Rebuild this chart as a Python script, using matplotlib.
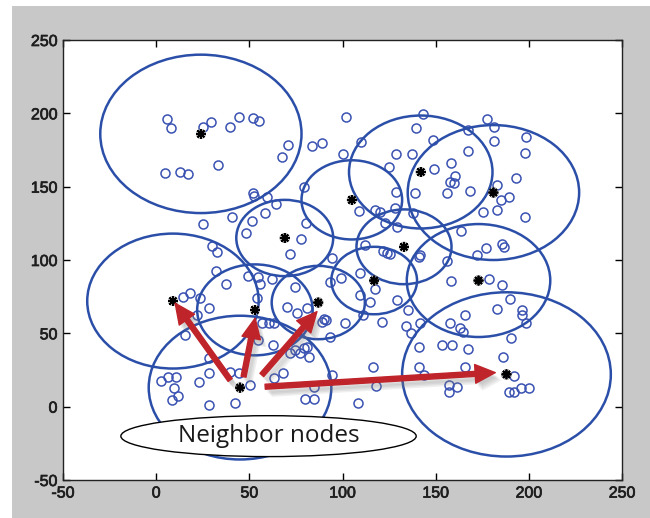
import matplotlib
matplotlib.use("Agg")
import matplotlib.pyplot as plt
from matplotlib.patches import Ellipse, Rectangle
import matplotlib.patheffects as pe

# ---- data ----
node_x = [5.7, 7.9, 25.4, 29.5, 39.7, 44.7, 52.2, 55.4,
          4.8, 12.9, 17.3, 33.1,
          67.5, 70.5, 83.6, 89.0, 79.1,
          52.2, 52.6, 59.4, 64.4, 58.5, 40.9, 24.9, 51.4, 48.3,
          77.8, 80.5, 71.6, 29.9, 32.6,
          102.0, 109.9, 100.2, 143.0, 139.6, 148.5, 128.7, 137.4, 124.7, 149.2, 158.2, 167.6, 167.6,
          177.8, 181.4, 181.4, 198.6, 198.1, 160.5, 157.8, 160.1, 156.0, 168.5, 193.2, 182.9, 185.2,
          189.3, 182.9, 175.4, 198.1, 138.7, 128.7, 108.6, 117.6, 120.0, 128.3, 122.9, 129.2, 138.1,
          163.6, 177.1, 185.6, 186.5, 112.2, 122.0, 123.8, 125.6,
          32.2, 49.5, 54.9, 55.8, 62.1, 37.6, 18.3, 14.3, 23.6, 28.1, 21.8, 54.0, 74.6, 70.1, 75.5,
          80.9, 90.2, 88.9, 56.7, 60.3, 63.0, 54.9, 62.6, 15.6, 28.1, 39.7, 44.2, 50.5, 42.4, 28.6,
          23.2, 28.6, 2.5, 6.6, 10.7, 9.7, 11.6, 8.7, 63.0, 68.3, 71.9, 80.9, 74.6, 79.1, 81.8, 77.3,
          84.5, 80.0, 84.5,
          140.8, 141.7, 156.0, 172.1, 94.3, 99.1, 93.4, 109.5, 117.6, 109.5, 114.9, 129.2, 135.4,
          158.2, 165.9, 157.8, 163.2, 164.6, 91.3, 101.4, 93.4, 111.0, 121.0, 134.2, 136.9, 141.7,
          141.3, 153.4, 158.8, 167.6, 116.3, 141.3, 143.9, 165.9, 118.1, 157.0, 161.4, 157.0, 94.3,
          178.4, 185.6, 190.0, 182.9, 196.3, 196.3, 198.6, 190.4, 186.0, 191.9, 189.1, 191.9, 196.0,
          199.9, 108.1]
node_y = [196.1, 189.8, 190.9, 194.3, 190.9, 197.3, 197.0, 195.0,
          159.5, 160.2, 158.6, 164.8,
          170.4, 178.6, 177.7, 179.5, 149.6,
          145.9, 143.6, 143.2, 138.2, 131.8, 129.5, 124.3, 126.6, 118.2,
          114.1, 125.0, 104.1, 109.5, 105.7,
          197.3, 180.4, 172.0, 199.3, 190.2, 181.8, 172.0, 172.0, 163.6, 161.8, 166.3, 174.3, 188.6,
          196.1, 190.9, 181.3, 184.0, 173.1, 157.3, 153.4, 152.7, 145.9, 147.2, 155.7, 151.1, 140.9,
          142.7, 134.1, 132.5, 129.5, 145.9, 146.6, 133.6, 134.1, 132.9, 135.2, 125.4, 122.7, 131.8,
          120.0, 108.0, 110.7, 108.7, 110.2, 106.3, 104.6, 104.1,
          92.7, 89.1, 88.6, 83.6, 86.8, 83.4, 77.3, 75.0, 73.9, 67.0, 62.5, 73.9, 81.4, 68.2, 64.1,
          67.1, 59.6, 57.9, 56.8, 56.8, 56.8, 45.5, 42.1, 48.9, 33.0, 23.9, 22.8, 14.8, 2.7, 1.2,
          17.0, 22.8, 17.7, 20.4, 20.0, 12.5, 7.3, 4.6, 19.4, 23.2, 36.4, 40.9, 38.7, 39.8, 34.1, 36.4,
          13.6, 5.0, 5.0,
          102.2, 103.4, 99.5, 103.4, 101.2, 87.9, 85.2, 90.9, 80.0, 76.1, 71.6, 72.7, 65.9,
          85.9, 62.5, 56.8, 53.4, 51.1, 59.1, 57.3, 47.7, 62.5, 58.0, 55.0, 50.0, 57.3,
          40.5, 42.1, 42.1, 39.1, 27.3, 27.3, 21.6, 27.3, 14.3, 14.8, 13.6, 10.2, 21.6,
          86.8, 83.0, 73.2, 66.4, 65.9, 62.5, 56.8, 47.0, 34.1, 20.9, 10.2, 10.2, 12.5,
          12.5, 2.3]

head_x = [24, 69, 142, 181, 105, 133, 117, 173, 188, 9, 53, 87, 45]
head_y = [186, 115, 160, 146, 141, 109, 86, 86, 22, 72, 66, 71, 13]
radius = [54, 26, 38.5, 46, 27, 25.5, 23, 38.5, 56, 46, 31, 25, 49]

arrow_from = [(39.7, 18.2), (46.9, 20.4), (56.7, 21.6), (58.5, 13.6)]
arrow_to = [(10.2, 70.5), (53.1, 60.3), (86.3, 64.8), (182.0, 23.2)]

label_text = "Neighbor nodes"
label_center = (60.3, -20.1)
label_size = (158.5, 27.9)

xticks = [-50, 0, 50, 100, 150, 200, 250]
yticks = [-50, 0, 50, 100, 150, 200, 250]

# ---- figure ----
fig = plt.figure(figsize=(6.5, 5.18), dpi=100, facecolor="white")
fig.patches.append(Rectangle((12 / 650, 0), 1 - 12 / 650, 1 - 6 / 518,
                             transform=fig.transFigure, facecolor="#c8c8c8",
                             edgecolor="none", zorder=-10))
ax = fig.add_axes([63 / 650, 1 - 480 / 518, 559 / 650, 440 / 518])
ax.set_facecolor("white")

blue = "#2b4fa8"
ax.plot(node_x, node_y, linestyle="none", marker="o", ms=6.5, mfc="none",
        mec="#3a52b2", mew=1.1, zorder=2)

for hx, hy, r in zip(head_x, head_y, radius):
    ax.add_patch(Ellipse((hx, hy), 2 * r, 2 * r, fill=False, edgecolor=blue,
                         lw=1.8, zorder=3))

ax.plot(head_x, head_y, linestyle="none", marker=(8, 2, 0), ms=7, color="black",
        mew=1.3, zorder=4,
        path_effects=[pe.Stroke(linewidth=3.2, foreground="#9a9a9a", alpha=0.6), pe.Normal()])

shadow = [pe.SimplePatchShadow(offset=(o, -o - 1), shadow_rgbFace="#808080", alpha=0.12)
          for o in (1.5, 2.5, 3.5, 4.5)]
for (sx, sy), (ex, ey) in zip(arrow_from, arrow_to):
    ax.annotate("", xy=(ex, ey), xytext=(sx, sy),
                arrowprops=dict(arrowstyle="simple,head_length=1.45,head_width=1.35,tail_width=0.36",
                                color="#c0242b", mutation_scale=10, shrinkA=0, shrinkB=0,
                                path_effects=shadow + [pe.Normal()]),
                zorder=6)

ax.add_patch(Ellipse(label_center, label_size[0], label_size[1], facecolor="white",
                     edgecolor="black", lw=1.0, zorder=7))
ax.text(label_center[0], label_center[1], label_text, ha="center", va="center",
        fontsize=17.5, family="Open Sans", color="#1a1a1a", zorder=8)

ax.set_xlim(-50, 250)
ax.set_ylim(-50, 250)
ax.set_xticks(xticks)
ax.set_yticks(yticks)
ax.set_xticklabels([str(t) for t in xticks])
ax.set_yticklabels([str(t) for t in yticks])
ax.tick_params(direction="in", length=5, width=1, top=True, right=True,
               labelsize=11.5, pad=4, labelcolor="#1e1e1e")
for lab in ax.get_xticklabels() + ax.get_yticklabels():
    lab.set_family("Liberation Sans")
    lab.set_path_effects([pe.withStroke(linewidth=0.5, foreground="#1e1e1e")])
for s in ax.spines.values():
    s.set_linewidth(1.0)
    s.set_color("#222222")

fig.savefig("out.png", dpi=100, facecolor="white")
